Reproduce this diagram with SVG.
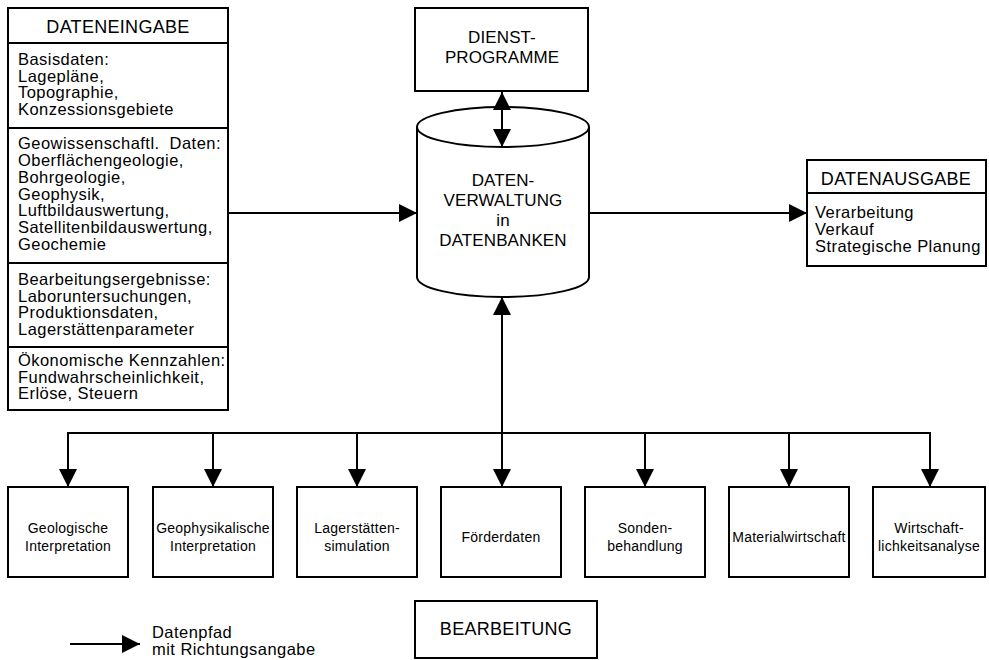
<svg xmlns="http://www.w3.org/2000/svg" width="989" height="660" viewBox="0 0 989 660">
<style>
  .box { fill: #fff; stroke: #000; stroke-width: 2; }
  .ln { fill: none; stroke: #000; stroke-width: 2; }
  .head { font-family: "Liberation Sans", Arial, sans-serif; font-size: 18px; letter-spacing: 0.3px; fill: #000; text-anchor: middle; }
  .mid { font-family: "Liberation Sans", Arial, sans-serif; font-size: 17px; letter-spacing: 0.1px; fill: #000; text-anchor: middle; }
  .body { font-family: "Liberation Sans", Arial, sans-serif; font-size: 16.5px; letter-spacing: 0.45px; fill: #000; }
  .small { font-family: "Liberation Sans", Arial, sans-serif; font-size: 14px; letter-spacing: 0.25px; fill: #000; text-anchor: middle; }
</style>
<defs>
  <marker id="ah" markerUnits="userSpaceOnUse" markerWidth="18" markerHeight="18" viewBox="0 0 17 17" refX="17" refY="8.5" orient="auto-start-reverse">
    <path d="M0,0 L17,8.5 L0,17 z" fill="#000"/>
  </marker>
</defs>
<rect width="989" height="660" fill="#fff"/>

<g id="dateneingabe">
  <rect class="box" x="8" y="8" width="220" height="402"/>
  <line class="ln" x1="8" y1="43" x2="228" y2="43"/>
  <line class="ln" x1="8" y1="128" x2="228" y2="128"/>
  <line class="ln" x1="8" y1="263" x2="228" y2="263"/>
  <line class="ln" x1="8" y1="347" x2="228" y2="347"/>
  <text class="head" x="118" y="33">DATENEINGABE</text>
  <text class="body">
    <tspan x="18" y="65">Basisdaten:</tspan>
    <tspan x="18" y="81.5">Lagepläne,</tspan>
    <tspan x="18" y="98">Topographie,</tspan>
    <tspan x="18" y="114.5">Konzessionsgebiete</tspan>
  </text>
  <text class="body">
    <tspan x="18" y="149">Geowissenschaftl.&#160; Daten:</tspan>
    <tspan x="18" y="166">Oberflächengeologie,</tspan>
    <tspan x="18" y="183">Bohrgeologie,</tspan>
    <tspan x="18" y="199.5">Geophysik,</tspan>
    <tspan x="18" y="216">Luftbildauswertung,</tspan>
    <tspan x="18" y="232.5">Satellitenbildauswertung,</tspan>
    <tspan x="18" y="250">Geochemie</tspan>
  </text>
  <text class="body">
    <tspan x="18" y="285">Bearbeitungsergebnisse:</tspan>
    <tspan x="18" y="301.5">Laboruntersuchungen,</tspan>
    <tspan x="18" y="318">Produktionsdaten,</tspan>
    <tspan x="18" y="334.5">Lagerstättenparameter</tspan>
  </text>
  <text class="body">
    <tspan x="18" y="366">Ökonomische Kennzahlen:</tspan>
    <tspan x="18" y="382.5">Fundwahrscheinlichkeit,</tspan>
    <tspan x="18" y="399">Erlöse, Steuern</tspan>
  </text>
</g>

<g id="dienstprogramme">
  <rect class="box" x="415" y="8" width="173" height="83"/>
  <text class="mid" x="502" y="43">DIENST-</text>
  <text class="mid" x="502" y="63">PROGRAMME</text>
</g>

<g id="datenverwaltung">
  <path class="box" d="M417,127 L417,277 A86,20 0 0 0 589,277 L589,127"/>
  <ellipse class="box" cx="503" cy="127" rx="86" ry="20"/>
  <text class="mid" x="503" y="186">DATEN-</text>
  <text class="mid" x="503" y="206">VERWALTUNG</text>
  <text class="mid" x="503" y="226">in</text>
  <text class="mid" x="503" y="246">DATENBANKEN</text>
</g>

<g id="datenausgabe">
  <rect class="box" x="807" y="160" width="179" height="106"/>
  <line class="ln" x1="807" y1="193" x2="986" y2="193"/>
  <text class="head" x="896" y="185">DATENAUSGABE</text>
  <text class="body">
    <tspan x="815" y="218">Verarbeitung</tspan>
    <tspan x="815" y="235">Verkauf</tspan>
    <tspan x="815" y="252">Strategische Planung</tspan>
  </text>
</g>

<g id="geologische">
  <rect class="box" x="8" y="487" width="120" height="90"/>
  <text class="small" x="68" y="533">Geologische</text>
  <text class="small" x="68" y="551">Interpretation</text>
</g>
<g id="geophysikalische">
  <rect class="box" x="153" y="487" width="120" height="90"/>
  <text class="small" x="213" y="533">Geophysikalische</text>
  <text class="small" x="213" y="551">Interpretation</text>
</g>
<g id="lagerstaetten">
  <rect class="box" x="297" y="487" width="120" height="90"/>
  <text class="small" x="357" y="533">Lagerstätten-</text>
  <text class="small" x="357" y="551">simulation</text>
</g>
<g id="foerderdaten">
  <rect class="box" x="441" y="487" width="120" height="90"/>
  <text class="small" x="501" y="542">Förderdaten</text>
</g>
<g id="sonden">
  <rect class="box" x="585" y="487" width="120" height="90"/>
  <text class="small" x="645" y="533">Sonden-</text>
  <text class="small" x="645" y="551">behandlung</text>
</g>
<g id="material">
  <rect class="box" x="729" y="487" width="120" height="90"/>
  <text class="small" x="789" y="542">Materialwirtschaft</text>
</g>
<g id="wirtschaft">
  <rect class="box" x="873" y="487" width="112" height="90"/>
  <text class="small" x="929" y="533">Wirtschaft-</text>
  <text class="small" x="929" y="551">lichkeitsanalyse</text>
</g>

<g id="bearbeitung">
  <rect class="box" x="415" y="601" width="182" height="57"/>
  <text class="head" x="506" y="635">BEARBEITUNG</text>
</g>

<g id="connectors">
  <line class="ln" x1="228" y1="213" x2="417" y2="213" marker-end="url(#ah)"/>
  <line class="ln" x1="589" y1="213" x2="807" y2="213" marker-end="url(#ah)"/>
  <line class="ln" x1="502" y1="92" x2="502" y2="147" marker-start="url(#ah)" marker-end="url(#ah)"/>
  <line class="ln" x1="502" y1="297" x2="502" y2="487" marker-start="url(#ah)" marker-end="url(#ah)"/>
  <line class="ln" x1="68" y1="433" x2="930" y2="433"/>
  <line class="ln" x1="68" y1="432" x2="68" y2="487" marker-end="url(#ah)"/>
  <line class="ln" x1="213" y1="433" x2="213" y2="487" marker-end="url(#ah)"/>
  <line class="ln" x1="357" y1="433" x2="357" y2="487" marker-end="url(#ah)"/>
  <line class="ln" x1="645" y1="433" x2="645" y2="487" marker-end="url(#ah)"/>
  <line class="ln" x1="789" y1="433" x2="789" y2="487" marker-end="url(#ah)"/>
  <line class="ln" x1="930" y1="432" x2="930" y2="487" marker-end="url(#ah)"/>
</g>

<g id="legende">
  <line class="ln" x1="70" y1="644" x2="140" y2="644" marker-end="url(#ah)"/>
  <text class="body">
    <tspan x="152" y="638">Datenpfad</tspan>
    <tspan x="152" y="655">mit Richtungsangabe</tspan>
  </text>
</g>
</svg>
